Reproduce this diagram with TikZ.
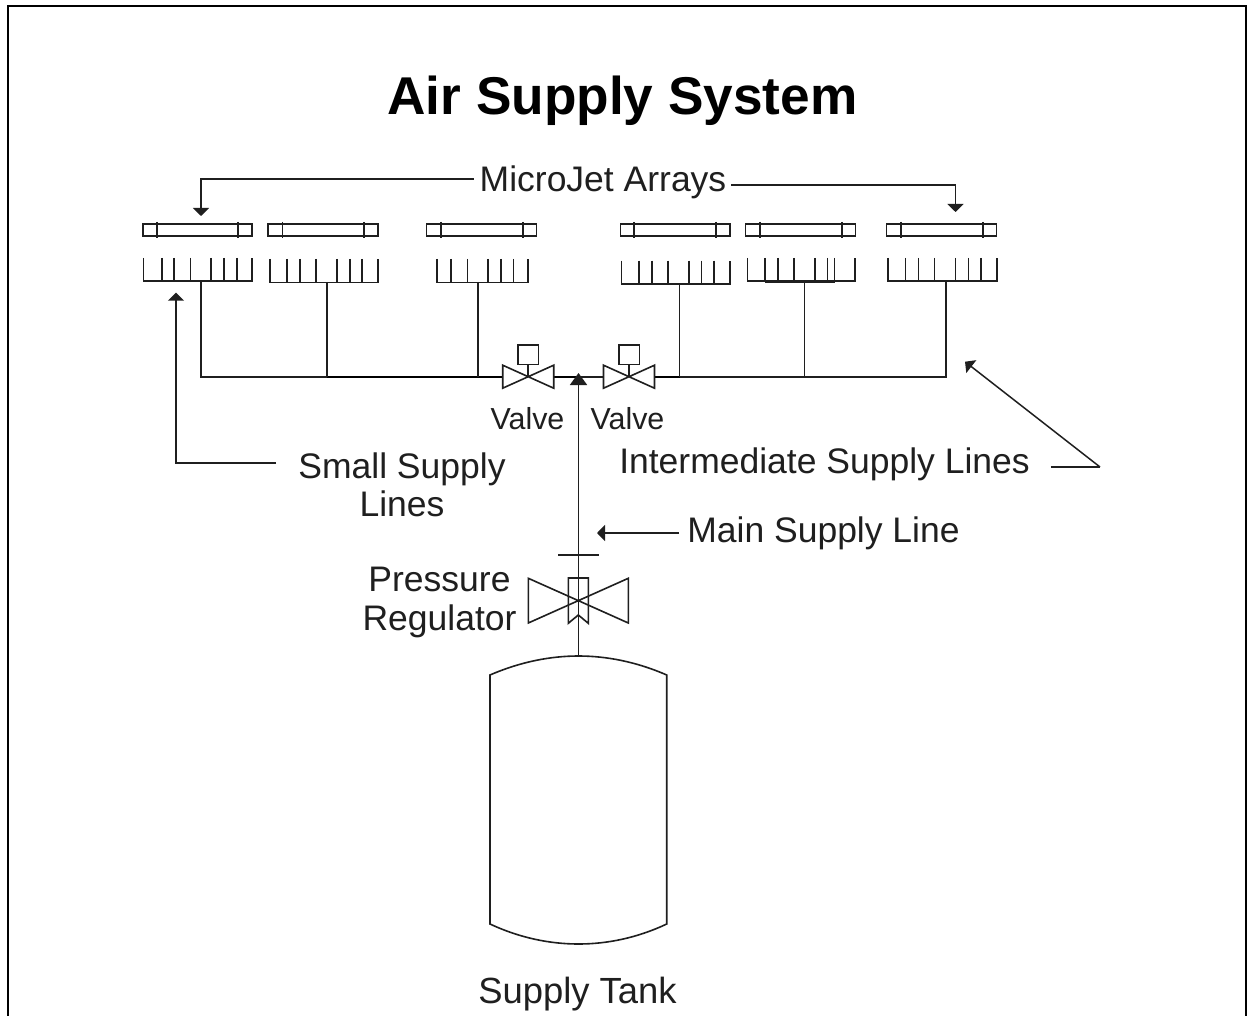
\documentclass[tikz,border=0pt]{standalone}
\usepackage{fontspec}
\setmainfont{Liberation Sans}
\usetikzlibrary{arrows.meta}
\definecolor{ink}{gray}{0.12}
\tikzset{
  x=1pt,y=-1pt,
  pipe/.style={draw=ink,line width=1.6pt,line join=miter},
  heavy/.style={draw=black,line width=2.3pt},
  part/.style={draw=ink,line width=1.5pt,fill=white},
  leader/.style={draw=ink,line width=1.5pt,-{Triangle[width=16pt,length=8pt]}},
  plain/.style={draw=ink,line width=1.6pt},
  lab/.style={font=\fontsize{35.5}{40}\selectfont,text=ink,inner sep=0pt,anchor=base},
  vlab/.style={font=\fontsize{30.4}{34}\selectfont,text=ink,inner sep=0pt,anchor=base},
}
% bar: x1, x2, tick1, tick2
\newcommand{\jetbar}[4]{%
  \draw[part] (#1,224) rectangle (#2,236);
  \draw[plain] (#3,222) -- (#3,238) (#4,222) -- (#4,238);
}
% comb: top y, bottom y, first end, last end
\newcommand{\jetcomb}[4]{%
  \draw[plain] (#3,#1) -- (#3,#2) -- (#4,#2) -- (#4,#1);
}
\newcommand{\teeth}[3]{%
  \foreach \tx in {#3} {\draw[plain] (\tx,#1) -- (\tx,#2);}
}
% valve at centre x
\newcommand{\valve}[2]{%
  \draw[plain] (#1,376.7) -- ++(-25.5,-11.5) -- ++(0,23) -- (#1,376.7) -- ++(25.5,-11.5) -- ++(0,23) -- cycle;
  \draw[plain] (#1,364.5) -- (#1,376.7);
  \node[name=#2,draw=ink,line width=1.5pt,fill=white,minimum width=20.5pt,minimum height=19.5pt,inner sep=0pt] at (#1,354.7) {};
}
\begin{document}
\begin{tikzpicture}
\useasboundingbox (0,0) rectangle (1253,1016);
\fill[white] (0,0) rectangle (1253,1016);
\draw[black,line width=2pt] (7.5,1016) -- (7.5,6) -- (1246,6) -- (1246,1016);

% titles and labels
\node[lab,font=\bfseries\fontsize{53.2}{60}\selectfont,text=black] (title) at (622.5,114.5) {Air Supply System};
\node[lab] (arrays) at (603,191.5) {MicroJet Arrays};
\node[vlab] (v1lab) at (527.5,429.5) {Valve};
\node[vlab] (v2lab) at (627.5,429.5) {Valve};
\node[lab] (small1) at (402,478) {Small Supply};
\node[lab] (small2) at (402,516) {Lines};
\node[lab] (inter) at (824.5,473) {Intermediate Supply Lines};
\node[lab] (main) at (823.5,542) {Main Supply Line};
\node[lab] (press1) at (439.5,591) {Pressure};
\node[lab] (press2) at (439.5,630) {Regulator};
\node[lab,font=\fontsize{36.4}{40}\selectfont] (tanklab) at (577.5,1003) {Supply Tank};

% named points
\coordinate (hl) at (201,377);
\coordinate (hr) at (946,377);
\coordinate (junc) at (578.5,377);
\coordinate (tanktop) at (578.5,656);

% supply lines
\draw[pipe] (201,281) -- (hl) -- (327,377);
\draw[heavy] (327,377) -- (502.5,377) (553,377) -- (578,377);
\draw[pipe] (578,377) -- (603,377);
\draw[heavy] (654,377) -- (680,377);
\draw[pipe] (680,377) -- (hr) -- (946,281);
\draw[pipe] (327,282) -- (327,377);
\draw[pipe] (478,282) -- (478,377);
\draw[pipe] (679.5,284) -- (679.5,377);
\draw[pipe] (804.5,281) -- (804.5,377);

% main line
\draw[draw=ink,line width=1.8pt,-{Triangle[width=17pt,length=12pt]}] (tanktop) -- (578.5,373);

% jet bars
\jetbar{143}{252}{157}{238}
\jetbar{268}{378}{282.5}{364}
\jetbar{426.7}{536.7}{441}{522.7}
\jetbar{620.7}{730}{634}{716}
\jetbar{745.7}{855.7}{760}{841.7}
\jetbar{886.7}{996.7}{900.7}{982.7}

% combs
\jetcomb{258}{281}{143.5}{252}
\teeth{258}{281}{161.7,174,190.5,211,224,237}
\jetcomb{259}{282.7}{270}{378}
\teeth{259}{282.7}{286.7,300,316,337,350,362}
\jetcomb{259}{282.7}{437}{528}
\teeth{259}{282.7}{451,467.3,488,500.7,513.5}
\jetcomb{260.7}{284}{621.5}{730}
\teeth{260.7}{284}{639,652,668,689,701.5,714}
\jetcomb{258}{281}{747.5}{855}
\teeth{258}{281.7}{764.7,778,794,815,827.5,834.5}
\draw[plain] (764.7,282) -- (834.5,282);
\jetcomb{258}{281}{888}{997}
\teeth{258}{281}{905.5,918.5,934.5,955.5,968.5,981}

% valves
\valve{528.2}{v1box}
\valve{629}{v2box}

% regulator
\draw[plain] (558,555) -- (599,555);
\draw[draw=ink,line width=1.8pt] (578.5,555) -- (tanktop);
\draw[plain] (578.5,600.7) -- (528.3,578.3) -- (528.3,623) -- (628.3,578.3) -- (628.3,623) -- cycle;
\draw[plain] (568.3,623.3) -- (568.3,578) -- (588.3,578) -- (588.3,623.3) -- (578.3,615) -- cycle;

% tank
\draw[plain,fill=white] (490,675) .. controls (520,662) and (550,656) .. (tanktop)
  .. controls (607,656) and (637,662) .. (666.7,675) -- (666.7,924)
  .. controls (637,938) and (607,944) .. (578.5,944)
  .. controls (550,944) and (520,938) .. (490,924) -- cycle;

% leaders
\draw[leader] (arrays.west |- 0,179) ++(-6,0) -- (201,179) -- (201,216);
\draw[leader] (arrays.east |- 0,185) ++(5,0) -- (955.5,185) -- (955.5,212);
\draw[leader] (276,463) -- (176,463) -- (176,292.7);
\draw[plain] (inter.east |- 0,467) ++(21,0) -- (1100,467);
\draw[leader] (1100,467) -- (965,361.7);
\draw[leader] (main.west |- 0,533) ++(-8,0) -- (597,533);
\end{tikzpicture}
\end{document}
